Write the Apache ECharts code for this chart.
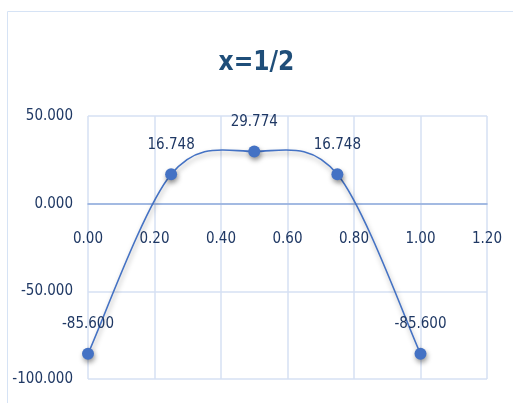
<!DOCTYPE html>
<html>
<head>
<meta charset="utf-8">
<script src="https://cdn.jsdelivr.net/npm/echarts@6/dist/echarts.min.js"></script>
<style>
  html, body { margin: 0; padding: 0; background: #fff; }
  #chart { width: 513px; height: 403px; }
</style>
</head>
<body>
<div id="chart"></div>
<script>
// Sample positions along x and the computed values at each
const xValues = [0, 0.25, 0.5, 0.75, 1.0];
const yValues = [-85.6, 16.748, 29.774, 16.748, -85.6];
const xTicks = { min: 0, max: 1.2, step: 0.2 };
const yTicks = { min: -100, max: 50, step: 50 };
const titleText = 'x=1/2';

const FONT = '"DejaVu Sans Condensed", "Liberation Sans Narrow", Roboto, sans-serif';
const TEXT = '#1f3864';
const LINE = '#4472c4';
const GRID = '#d6e1f3';

const points = xValues.map((x, i) => [x, yValues[i]]);

// Smoothed curve through all samples (Catmull-Rom style cubic Bezier,
// tangent = (next - prev) / 6 at each sample), drawn in pixel space.
function renderCurve(params, api) {
  if (params.dataIndexInside !== 0) return null;
  const n = params.dataInsideLength;
  const p = [];
  for (let i = 0; i < n; i++) {
    p.push(api.coord([api.value(0, i), api.value(1, i)]));
  }
  const k = 1 / 6;
  let d = 'M' + p[0][0] + ' ' + p[0][1];
  for (let i = 0; i < n - 1; i++) {
    const p0 = p[Math.max(i - 1, 0)];
    const p1 = p[i];
    const p2 = p[i + 1];
    const p3 = p[Math.min(i + 2, n - 1)];
    const c1 = [p1[0] + (p2[0] - p0[0]) * k, p1[1] + (p2[1] - p0[1]) * k];
    const c2 = [p2[0] - (p3[0] - p1[0]) * k, p2[1] - (p3[1] - p1[1]) * k];
    d += ' C' + c1[0] + ' ' + c1[1] + ' ' + c2[0] + ' ' + c2[1] + ' ' + p2[0] + ' ' + p2[1];
  }
  return {
    type: 'path',
    shape: { pathData: d },
    style: {
      fill: 'none', stroke: LINE, lineWidth: 1.6,
      shadowColor: 'rgba(0,0,0,0.35)', shadowBlur: 5, shadowOffsetX: 1, shadowOffsetY: 3
    }
  };
}

const chart = echarts.init(document.getElementById('chart'), null, { renderer: 'canvas' });

chart.setOption({
  animation: false,
  backgroundColor: '#ffffff',
  graphic: [{
    type: 'rect',
    shape: { x: 7.5, y: 11.5, width: 520, height: 420 },
    style: { fill: 'none', stroke: '#d6e3f5', lineWidth: 1 },
    silent: true, z: -10
  }],
  title: {
    text: titleText,
    left: 'center',
    top: 45,
    textStyle: { fontFamily: FONT, fontSize: 26, fontWeight: 'bold', color: '#1f4e79' }
  },
  grid: { left: 88, right: 26, top: 116, bottom: 24, outerBoundsMode: 'none' },
  xAxis: {
    type: 'value',
    min: xTicks.min, max: xTicks.max, interval: xTicks.step,
    axisLine: { onZero: true, lineStyle: { color: '#8fabdc', width: 1.5 } },
    axisTick: { show: false },
    axisLabel: {
      // labels sit just under the zero line rather than at the plot bottom
      margin: -147,
      fontFamily: FONT, fontSize: 15, color: TEXT,
      formatter: v => v.toFixed(2)
    },
    splitLine: { show: true, lineStyle: { color: GRID, width: 1.5 } }
  },
  yAxis: {
    type: 'value',
    min: yTicks.min, max: yTicks.max, interval: yTicks.step,
    axisLine: { show: false },
    axisTick: { show: false },
    axisLabel: {
      margin: 15,
      fontFamily: FONT, fontSize: 15, color: TEXT,
      formatter: v => v.toFixed(3)
    },
    splitLine: { show: true, lineStyle: { color: GRID, width: 1.5 } }
  },
  series: [
    {
      type: 'custom',
      data: points,
      renderItem: renderCurve,
      clip: false,
      z: 2
    },
    {
      type: 'scatter',
      data: points,
      symbol: 'circle',
      symbolSize: 12,
      z: 3,
      itemStyle: {
        color: LINE, opacity: 1,
        shadowColor: 'rgba(0,0,0,0.4)', shadowBlur: 5, shadowOffsetX: 1, shadowOffsetY: 3
      },
      label: {
        show: true,
        position: 'top',
        distance: 16,
        fontFamily: FONT, fontSize: 15, color: TEXT, opacity: 1,
        formatter: p => p.value[1].toFixed(3)
      }
    }
  ]
});
</script>
</body>
</html>
